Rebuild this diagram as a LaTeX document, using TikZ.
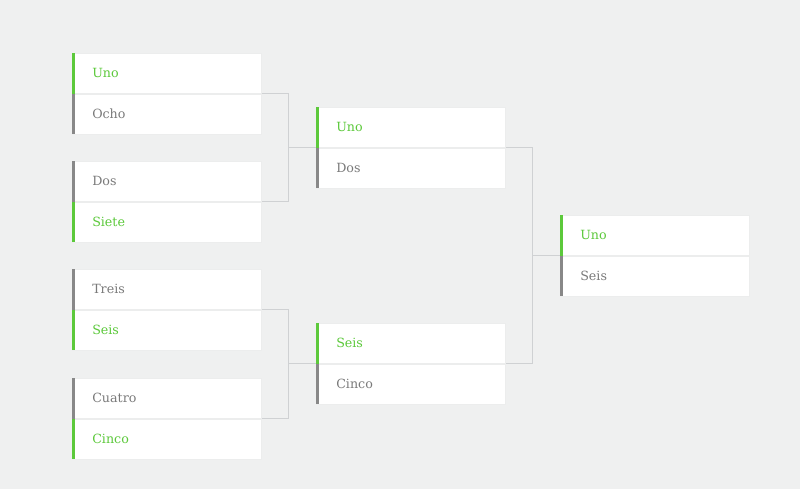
\documentclass[tikz,border=0pt]{standalone}
\usepackage{fontspec}
\setmainfont{DejaVu Serif}
\usepackage{tikz}
\usetikzlibrary{positioning}

\definecolor{pagebg}{HTML}{EFF0F0}
\definecolor{wingreen}{HTML}{5CC93B}
\definecolor{losegray}{HTML}{7A7A7A}
\definecolor{bargray}{HTML}{888888}
\definecolor{rowline}{HTML}{ECEDED}
\definecolor{linkgray}{HTML}{CFD1D3}

\begin{document}
\begin{tikzpicture}[
    x=0.75pt, y=0.75pt,
    row/.style={rectangle, draw=rowline, fill=white, minimum height=30pt, inner ysep=0pt, inner xsep=15pt, text width=111.75pt, align=left, font=\fontsize{9.5}{11}\selectfont},
    winner/.style={row, text=wingreen},
    loser/.style={row, text=losegray},
    link/.style={draw=linkgray, line width=0.8pt}
]
\fill[pagebg] (0,0) rectangle (800,-489);
\useasboundingbox (0,0) rectangle (800,-489);

% round 1
\node[winner, anchor=north west] (m1a) at (72,-53) {Uno};
\node[loser, below=0pt of m1a] (m1b) {Ocho};
\node[loser, anchor=north west] (m2a) at (72,-161) {Dos};
\node[winner, below=0pt of m2a] (m2b) {Siete};
\node[loser, anchor=north west] (m3a) at (72,-269) {Treis};
\node[winner, below=0pt of m3a] (m3b) {Seis};
\node[loser, anchor=north west] (m4a) at (72,-378) {Cuatro};
\node[winner, below=0pt of m4a] (m4b) {Cinco};

% round 2
\node[winner, anchor=north west] (m5a) at (316,-107) {Uno};
\node[loser, below=0pt of m5a] (m5b) {Dos};
\node[winner, anchor=north west] (m6a) at (316,-323) {Seis};
\node[loser, below=0pt of m6a] (m6b) {Cinco};

% final
\node[winner, anchor=north west] (m7a) at (560,-215) {Uno};
\node[loser, below=0pt of m7a] (m7b) {Seis};

% side bars
\foreach \n/\c in {m1a/wingreen, m1b/bargray, m2a/bargray, m2b/wingreen,
                   m3a/bargray, m3b/wingreen, m4a/bargray, m4b/wingreen,
                   m5a/wingreen, m5b/bargray, m6a/wingreen, m6b/bargray,
                   m7a/wingreen, m7b/bargray}
    \fill[\c] (\n.north west) rectangle ([xshift=2.6pt]\n.south west);

% connectors
\draw[link] (m1a.south east) -- ++(27,0) coordinate (j1) |- (m2a.south east);
\draw[link] (j1 |- m5a.south west) -- (m5a.south west);
\draw[link] (m3a.south east) -- ++(27,0) coordinate (j2) |- (m4a.south east);
\draw[link] (j2 |- m6a.south west) -- (m6a.south west);
\draw[link] (m5a.south east) -- ++(27,0) coordinate (j3) |- (m6a.south east);
\draw[link] (j3 |- m7a.south west) -- (m7a.south west);
\end{tikzpicture}
\end{document}
